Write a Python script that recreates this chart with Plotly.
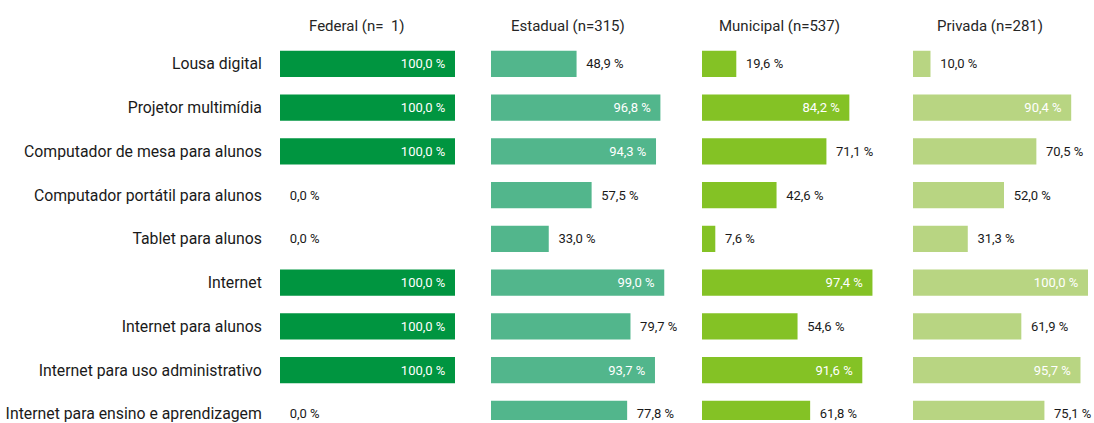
import plotly.graph_objects as go

categories = [
    "Lousa digital",
    "Projetor multimídia",
    "Computador de mesa para alunos",
    "Computador portátil para alunos",
    "Tablet para alunos",
    "Internet",
    "Internet para alunos",
    "Internet para uso administrativo",
    "Internet para ensino e aprendizagem",
]
panel_titles = ["Federal (n=  1)", "Estadual (n=315)", "Municipal (n=537)", "Privada (n=281)"]
federal = [100.0, 100.0, 100.0, 0.0, 0.0, 100.0, 100.0, 100.0, 0.0]
estadual = [48.9, 96.8, 94.3, 57.5, 33.0, 99.0, 79.7, 93.7, 77.8]
municipal = [19.6, 84.2, 71.1, 42.6, 7.6, 97.4, 54.6, 91.6, 61.8]
privada = [10.0, 90.4, 70.5, 52.0, 31.3, 100.0, 61.9, 95.7, 75.1]
series = [federal, estadual, municipal, privada]
colors = ["#009540", "#52B68C", "#84C225", "#B8D582"]

W, H = 1094, 423
L, R = 280, 6
plot_w = W - L - R
starts_px = [280, 491, 702, 913]
panel_w = 175

fig = go.Figure()
ypos = list(range(len(categories)))
FONT = "Roboto"

for i, (vals, col) in enumerate(zip(series, colors)):
    inside = [v >= 80 for v in vals]
    texts = [("%.1f %%" % v).replace(".", ",") for v in vals]
    texts = [t + "\u2002" if ins else "\u2002" + t for t, ins in zip(texts, inside)]
    xa = "x" if i == 0 else "x%d" % (i + 1)
    fig.add_trace(go.Bar(
        x=vals, y=ypos, orientation="h", marker=dict(color=col, line=dict(width=0)),
        width=0.6, text=texts,
        textposition=["inside" if ins else "outside" for ins in inside],
        insidetextanchor="end",
        textfont=dict(family=FONT, size=13, color=["white" if ins else "#1a1a1a" for ins in inside]),
        cliponaxis=False, xaxis=xa, yaxis="y", showlegend=False, hoverinfo="skip",
    ))
    d0 = (starts_px[i] - L) / plot_w
    d1 = (starts_px[i] + panel_w - L) / plot_w
    ax = dict(domain=[d0, min(d1, 1.0)], range=[0, 100], visible=False, fixedrange=True)
    if i > 0:
        ax["anchor"] = "y"
    fig.layout["xaxis" if i == 0 else "xaxis%d" % (i + 1)] = ax
    fig.add_annotation(
        text=panel_titles[i], x=44, xref=xa, y=1, yref="paper", yanchor="bottom",
        yshift=5, showarrow=False, font=dict(family=FONT, size=15, color="#262626"),
    )

fig.update_layout(
    width=W, height=H,
    margin=dict(l=L, r=R, t=42, b=0, pad=0),
    paper_bgcolor="white", plot_bgcolor="white",
    bargap=0.4,
    yaxis=dict(
        tickvals=ypos, ticktext=categories, range=[8.14, -0.5],
        showgrid=False, zeroline=False, showline=False, ticks="outside",
        ticklen=14, tickcolor="rgba(0,0,0,0)", ticklabeloverflow="allow",
        tickfont=dict(family=FONT, size=15.8, color="#1a1a1a"), fixedrange=True,
    ),
    uniformtext=dict(mode=False),
)

fig.write_html("out.html", config={"displayModeBar": False},
               post_script="document.body.style.margin='0';")
